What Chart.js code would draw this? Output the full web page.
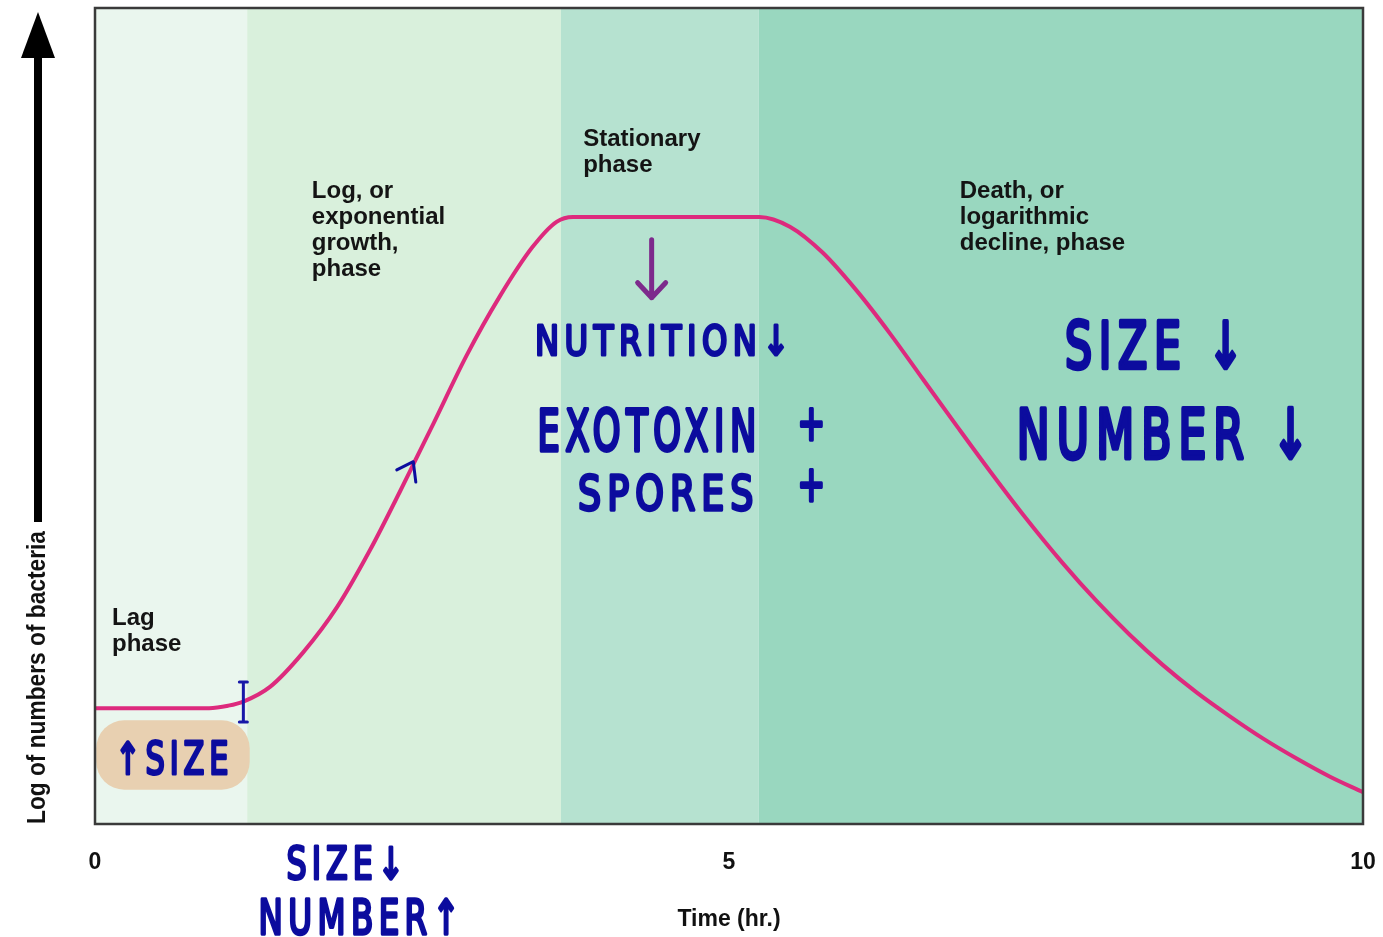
<!DOCTYPE html>
<html>
<head>
<meta charset="utf-8">
<script src="https://cdn.jsdelivr.net/npm/chart.js@4.4.0/dist/chart.umd.min.js"></script>
<style>
  html, body { margin: 0; padding: 0; background: #fff; overflow: hidden; }
  #wrap { width: 1383px; height: 937px; }
  canvas { display: block; }
</style>
</head>
<body>
<div id="wrap"><canvas id="growth-chart"></canvas></div>
<script>
// Bacterial growth curve
const timeHr = [0, 0.9, 1.05, 1.17, 1.38, 1.64, 1.91, 2.17, 2.41, 2.53, 2.67, 2.93, 3.19, 3.45, 3.64, 3.77,
                5.09, 5.24, 5.48, 5.74, 6.01, 6.27, 6.53, 6.80, 7.06, 7.32, 7.63, 7.90, 8.16, 8.42, 8.69,
                8.95, 9.21, 9.48, 9.74, 10];
const logCount = [14.2, 14.2, 14.5, 15.0, 16.8, 21.0, 26.6, 33.6, 40.9, 44.7, 49.1, 57.4, 64.6, 70.7, 73.8, 74.4,
                  74.4, 74.4, 73.2, 70.0, 65.3, 60.1, 54.5, 48.7, 43.2, 37.9, 32.0, 27.3, 23.2, 19.5, 16.1,
                  13.2, 10.5, 8.0, 5.8, 3.9];
const xTicks = [0, 5, 10];
const phaseEdges = [0, 1.2, 3.675, 5.235, 10];
const phaseNames = [
    ['Lag', 'phase'],
    ['Log, or', 'exponential', 'growth,', 'phase'],
    ['Stationary', 'phase'],
    ['Death, or', 'logarithmic', 'decline, phase']
];
const yTitle = 'Log of numbers of bacteria';
const xTitle = 'Time (hr.)';
// handwritten notes: text, left/right time, baseline value
const notes = [
    ['NUTRITION↓', 3.47, 5.52, 57.5],
    ['EXOTOXIN', 3.49, 5.26, 45.7],
    ['+', 5.54, 5.80, 47.1],
    ['SPORES', 3.81, 5.24, 38.5],
    ['+', 5.54, 5.80, 39.6],
    ['SIZE ↓', 7.65, 9.11, 55.9],
    ['NUMBER ↓', 7.27, 9.63, 44.9],
    ['↑SIZE', 0.16, 1.09, 6.1],
    ['SIZE↓', 1.51, 2.48, -6.7],
    ['NUMBER↑', 1.29, 2.92, -13.5]
];
const noteSizes = [41, 57, 50, 48, 50, 64, 68, 44, 44, 48];

const bandColors = ['#eaf6ee', '#d9f0dc', '#b6e2d0', '#99d7bf'];
const phasePos = [[0.134, 24.4], [1.71, 76.7], [3.85, 83.1], [6.82, 76.7]];
const ink = '#0c0c9e';

const decorations = {
    id: 'decorations',
    beforeDatasetsDraw(chart) {
        const { ctx, chartArea: a, scales: { x, y } } = chart;
        ctx.save();
        // phase bands
        for (let i = 0; i < bandColors.length; i++) {
            const l = x.getPixelForValue(phaseEdges[i]);
            const r = x.getPixelForValue(phaseEdges[i + 1]);
            ctx.fillStyle = bandColors[i];
            ctx.fillRect(l, a.top, r - l, a.bottom - a.top);
        }
        // phase labels
        ctx.fillStyle = '#141414';
        ctx.font = 'bold 24px "Liberation Sans", Arial, sans-serif';
        ctx.textBaseline = 'alphabetic';
        ctx.textAlign = 'left';
        phaseNames.forEach((lines, i) => {
            const px = x.getPixelForValue(phasePos[i][0]);
            const py = y.getPixelForValue(phasePos[i][1]);
            lines.forEach((t, j) => ctx.fillText(t, px, py + j * 26));
        });
        // tan highlight under the lag note
        ctx.fillStyle = '#e8d0b1';
        ctx.beginPath();
        const bx0 = x.getPixelForValue(0.01), bx1 = x.getPixelForValue(1.22);
        const by0 = y.getPixelForValue(12.7), by1 = y.getPixelForValue(4.2);
        ctx.roundRect(bx0, by0, bx1 - bx0, by1 - by0, 28);
        ctx.fill();
        ctx.restore();
    },
    afterDatasetsDraw(chart) {
        const { ctx, chartArea: a, scales: { x, y } } = chart;
        ctx.save();
        // frame
        ctx.strokeStyle = '#3a3a3a';
        ctx.lineWidth = 2.5;
        ctx.strokeRect(a.left, a.top, a.right - a.left, a.bottom - a.top);

        // axis titles
        ctx.fillStyle = '#111';
        ctx.font = 'bold 23px "Liberation Sans", Arial, sans-serif';
        ctx.textAlign = 'center';
        ctx.textBaseline = 'alphabetic';
        ctx.fillText(xTitle, x.getPixelForValue(5), a.bottom + 102);

        ctx.save();
        ctx.translate(38, a.bottom);
        ctx.rotate(-Math.PI / 2);
        ctx.font = 'bold 25px "Liberation Sans", sans-serif';
        const tw = ctx.measureText(yTitle).width;
        ctx.scale(293 / tw, 1);
        ctx.textAlign = 'left';
        ctx.textBaseline = 'middle';
        ctx.fillText(yTitle, 0, 0);
        ctx.restore();
        // up arrow
        ctx.fillStyle = '#000';
        ctx.fillRect(34, 55, 8, 467);
        ctx.beginPath();
        ctx.moveTo(38, 12);
        ctx.lineTo(21, 58);
        ctx.lineTo(55, 58);
        ctx.closePath();
        ctx.fill();

        // handwritten notes
        ctx.fillStyle = ink;
        ctx.strokeStyle = ink;
        ctx.lineJoin = 'round';
        ctx.lineCap = 'round';
        ctx.textAlign = 'left';
        ctx.textBaseline = 'alphabetic';
        notes.forEach((n, i) => {
            const [t, x0, x1, yb] = n;
            const l = x.getPixelForValue(x0), r = x.getPixelForValue(x1);
            const b = y.getPixelForValue(yb);
            ctx.font = `${noteSizes[i]}px "DejaVu Sans", sans-serif`;
            ctx.letterSpacing = Math.round(noteSizes[i] * 0.16) + 'px';
            const w = ctx.measureText(t).width;
            ctx.save();
            ctx.translate(l, b);
            ctx.scale((r - l) / w, 1);
            ctx.lineWidth = Math.max(3, noteSizes[i] * 0.07);
            ctx.fillText(t, 0, 0);
            ctx.strokeText(t, 0, 0);
            ctx.restore();
        });
        ctx.letterSpacing = '0px';

        // purple arrow
        ctx.strokeStyle = '#7d2a8c';
        ctx.lineWidth = 5;
        const ax = x.getPixelForValue(4.39);
        const ay0 = y.getPixelForValue(71.6), ay1 = y.getPixelForValue(64.5);
        ctx.beginPath();
        ctx.moveTo(ax, ay0); ctx.lineTo(ax, ay1);
        ctx.moveTo(ax - 14, ay1 - 15); ctx.lineTo(ax, ay1); ctx.lineTo(ax + 14, ay1 - 15);
        ctx.stroke();

        // bracket at end of lag
        ctx.strokeStyle = '#1818a8';
        ctx.lineWidth = 3;
        const kx = x.getPixelForValue(1.17);
        const ky0 = y.getPixelForValue(17.4), ky1 = y.getPixelForValue(12.5);
        ctx.beginPath();
        ctx.moveTo(kx, ky0); ctx.lineTo(kx, ky1);
        ctx.moveTo(kx - 4, ky0); ctx.lineTo(kx + 4, ky0);
        ctx.moveTo(kx - 4, ky1); ctx.lineTo(kx + 4, ky1);
        ctx.stroke();

        // caret on the log curve
        ctx.strokeStyle = ink;
        ctx.beginPath();
        ctx.moveTo(x.getPixelForValue(2.38), y.getPixelForValue(43.4));
        ctx.lineTo(x.getPixelForValue(2.51), y.getPixelForValue(44.4));
        ctx.lineTo(x.getPixelForValue(2.53), y.getPixelForValue(41.9));
        ctx.stroke();
        ctx.restore();
    }
};

const ctxGrowth = document.getElementById('growth-chart').getContext('2d');
const growthChart = new Chart(ctxGrowth, {
    type: 'line',
    data: {
        datasets: [{
            data: timeHr.map((t, i) => ({ x: t, y: logCount[i] })),
            borderColor: '#dd2a7d',
            borderWidth: 4,
            pointRadius: 0,
            cubicInterpolationMode: 'monotone',
            fill: false
        }]
    },
    options: {
        responsive: true,
        maintainAspectRatio: false,
        animation: false,
        layout: { padding: { left: 95, right: 20, top: 8, bottom: 0 } },
        plugins: { legend: { display: false }, tooltip: { enabled: false } },
        scales: {
            x: {
                type: 'linear',
                min: 0,
                max: 10,
                afterBuildTicks: (axis) => { axis.ticks = xTicks.map(v => ({ value: v })); },
                afterFit: (axis) => { axis.height = 113; },
                // tick marks are hidden; their length only pushes the labels down
                grid: { display: false, drawTicks: true, tickLength: 25 },
                border: { display: false },
                ticks: {
                    padding: 0,
                    color: '#111',
                    font: { family: '"Liberation Sans", sans-serif', size: 23, weight: 'bold' }
                }
            },
            y: {
                min: 0,
                max: 100,
                display: false
            }
        }
    },
    plugins: [decorations]
});
</script>
</body>
</html>
